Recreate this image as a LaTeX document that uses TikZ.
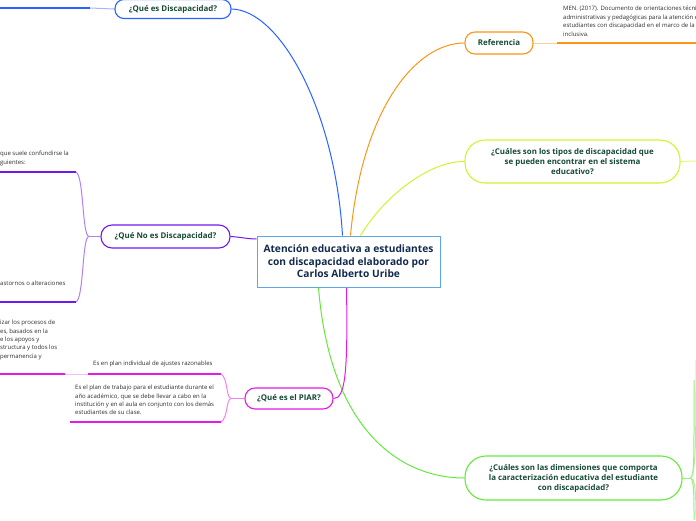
\documentclass[tikz,border=0pt]{standalone}
\usepackage{fontspec}
\setmainfont{Open Sans}
\usetikzlibrary{backgrounds}
\definecolor{ttxt}{RGB}{22,74,52}
\definecolor{ctxt}{RGB}{18,42,78}
\definecolor{cblue}{RGB}{92,168,230}
\definecolor{lblue}{RGB}{41,98,255}
\definecolor{lorange}{RGB}{250,150,20}
\definecolor{lyellow}{RGB}{212,242,50}
\definecolor{lgreen}{RGB}{100,232,60}
\definecolor{lpurple}{RGB}{110,25,240}
\definecolor{lmag}{RGB}{230,25,230}
\definecolor{ntxt}{RGB}{45,45,45}
\tikzset{
  topic/.style={draw, fill=white, line width=1.1pt, text=ttxt, align=center, inner sep=0pt,
    font=\fontsize{7.9}{10}\selectfont\bfseries},
  note/.style={anchor=north west, inner sep=0pt, align=left, text=ntxt,
    font=\fontsize{6}{8.4}\selectfont},
  conn/.style={line width=1pt},
  under/.style={line width=1.6pt},
}
\begin{document}
\begin{tikzpicture}[x=1pt,y=-1pt]
\useasboundingbox (0,0) rectangle (696,520);
% central
\node[draw=cblue, fill=white, line width=1pt, minimum width=183pt, minimum height=51pt, inner sep=0pt,
  align=center, text=ctxt, font=\fontsize{10.2}{12.6}\selectfont\bfseries] (c) at (348.5,261.5)
  {Atención educativa a estudiantes\\con discapacidad elaborado por\\Carlos Alberto Uribe};
% topics
\node[topic, draw=lblue, minimum width=116pt, minimum height=19pt, rounded corners=9pt] (q1) at (173,9) {¿Qué es Discapacidad?};
\node[topic, draw=lorange, minimum width=68pt, minimum height=22pt, rounded corners=10pt] (ref) at (499,43) {Referencia};
\node[topic, draw=lyellow, minimum width=215pt, minimum height=43pt, rounded corners=20pt] (tip) at (572.5,161.5)
  {¿Cuáles son los tipos de discapacidad que\\se pueden encontrar en el sistema\\educativo?};
\node[topic, draw=lgreen, minimum width=217pt, minimum height=44pt, rounded corners=21pt] (dim) at (573.5,478)
  {¿Cuáles son las dimensiones que comporta\\la caracterización educativa del estudiante\\con discapacidad?};
\node[topic, draw=lpurple, minimum width=129pt, minimum height=23pt, rounded corners=11pt] (noes) at (165.5,236.5) {¿Qué No es Discapacidad?};
\node[topic, draw=lmag, minimum width=88pt, minimum height=21pt, rounded corners=10pt] (piar) at (289,398.5) {¿Qué es el PIAR?};

% named free ends
\coordinate (b1) at (0,8);
\coordinate (b1m) at (90,8);
\coordinate (r1) at (557,43);
\coordinate (r2) at (696,43);
\coordinate (y1) at (696,161);
\coordinate (gj) at (690,478);
\coordinate (pj) at (89,236.5);
\coordinate (pt1) at (76,172);
\coordinate (pt0) at (0,172);
\coordinate (pb1) at (76,302);
\coordinate (pb0) at (0,302);
\coordinate (mj) at (231,398.5);
\coordinate (mt1) at (221,374);
\coordinate (mt2) at (88,374);
\coordinate (mt3) at (65,374);
\coordinate (mt0) at (0,374);
\coordinate (mb1) at (221,422);
\coordinate (mb0) at (70,422);

\begin{scope}[on background layer]
% main connectors
\draw[conn, lblue] (q1.east) .. controls (280,10) and (335,110) .. ([xshift=-6pt]c.north);
\draw[conn, lorange] ([xshift=2pt]c.north) .. controls (362,110) and (415,43) .. (ref.west);
\draw[conn, lyellow] ([xshift=12pt]c.north) .. controls (385,195) and (430,161) .. (tip.west);
\draw[conn, lgreen] ([xshift=-30pt]c.south) .. controls (330,430) and (400,478) .. (dim.west);
\draw[conn, lmag] ([xshift=-2pt]c.south) .. controls (348,375) and (345,398.5) .. (piar.east);
\draw[conn, lpurple] (noes.east) .. controls (240,237) and (248,239) .. (c.west |- 0,239);
% subtopic lines
\draw[conn, lblue!45] (q1.west) -- (b1m);
\draw[under, lblue] (b1m) -- (b1);
\draw[conn, lorange!45] (ref.east) -- (r1);
\draw[under, lorange] (r1) -- (r2);
\draw[conn, lyellow!60] (tip.east) -- (y1);
\draw[conn, lgreen!70] (dim.east) -- (gj);
\draw[conn, lgreen!70] (gj) .. controls (694,478) and (694,460) .. (694,420) -- (694,380);
\draw[conn, lgreen!55] (gj) .. controls (695,478) and (696,450) .. (696,380) -- (696,360);
\draw[conn, lgreen!70] (gj) .. controls (694,478) and (694,495) .. (694,520);
\draw[conn, lgreen!55] (gj) .. controls (695,478) and (696,490) .. (696,520);
% purple
\draw[conn, lpurple!55] (noes.west) -- (pj);
\draw[conn, lpurple!55] (pj) .. controls (82,236) and (84,176) .. (pt1);
\draw[conn, lpurple!55] (pj) .. controls (82,236) and (84,298) .. (pb1);
\draw[under, lpurple] (pt1) -- (pt0);
\draw[under, lpurple] (pb1) -- (pb0);
% magenta
\draw[conn, lmag!55] (piar.west) -- (mj);
\draw[conn, lmag!55] (mj) .. controls (226,398) and (228,378) .. (mt1);
\draw[conn, lmag!55] (mj) .. controls (226,399) and (228,418) .. (mb1);
\draw[under, lmag] (mt1) -- (mt2);
\draw[conn, lmag!30] (mt2) -- (mt3);
\draw[under, lmag] (mt3) -- (mt0);
\draw[under, lmag] (mb1) -- (mb0);
\end{scope}

% notes
\begin{scope}
\clip (0,0) rectangle (696,520);
\node[note] (nref) at (563,6) {MEN. (2017). Documento de orientaciones técnicas,\\administrativas y pedagógicas para la atención educativa a\\estudiantes con discapacidad en el marco de la educación\\inclusiva.};
\node[note] (nno1) at (0,151) {que suele confundirse la\\guientes:};
\node[note] (nno2) at (0,281) {astornos o alteraciones};
\node[note] (npi1) at (0,320) {izar los procesos de\\es, basados en la\\e los apoyos y\\structura y todos los\\ permanencia y};
\node[note] (npi2) at (93,361) {Es en plan individual de ajustes razonables};
\node[note] (npi3) at (75,385) {Es el plan de trabajo para el estudiante durante el\\año académico, que se debe llevar a cabo en la\\institución y en el aula en conjunto con los demás\\estudiantes de su clase.};
\end{scope}
\end{tikzpicture}
\end{document}
